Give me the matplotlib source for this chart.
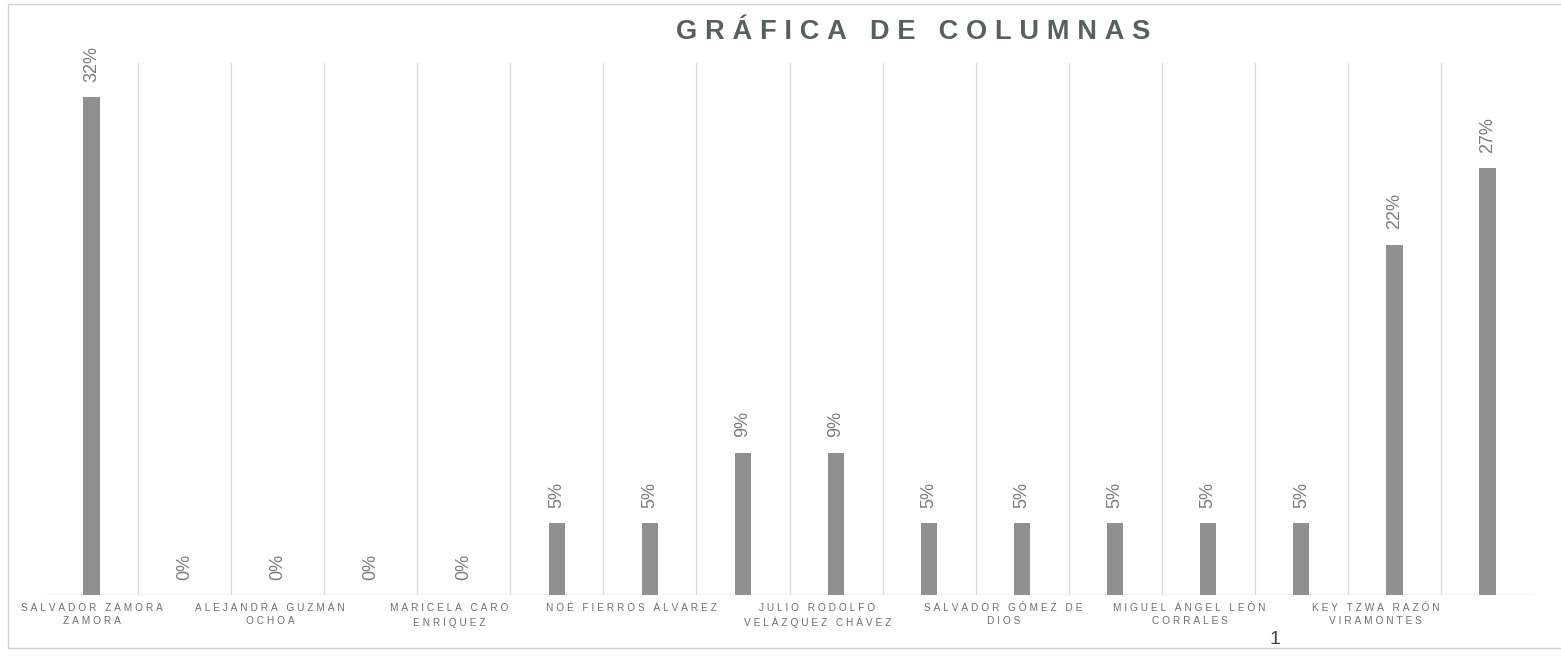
import matplotlib
matplotlib.use('Agg')
import matplotlib.pyplot as plt
from matplotlib.patches import Rectangle

plt.rcParams['font.family'] = ['Liberation Sans', 'DejaVu Sans']

# share of each candidate, in percent (labels show rounded values)
values = [31.8, 0, 0, 0, 0, 4.6, 4.6, 9.1, 9.1, 4.6, 4.6, 4.6, 4.6, 4.6, 22.4, 27.3]
# only every other category name is printed on the axis
shown_names = [
    'SALVADOR ZAMORA\nZAMORA',
    'ALEJANDRA GUZMÁN\nOCHOA',
    'MARICELA CARO\nENRÍQUEZ',
    'NOÉ FIERROS ÁLVAREZ',
    'JULIO RODOLFO\nVELÁZQUEZ CHÁVEZ',
    'SALVADOR GÓMEZ DE\nDIOS',
    'MIGUEL ÁNGEL LEÓN\nCORRALES',
    'KEY TZWA RAZÓN\nVIRAMONTES',
]
title = 'GRÁFICA DE COLUMNAS'
page_number = '1'

W, H, DPI = 1561, 657, 100


def spaced(text: str, gap: str) -> str:
    """Fake letter spacing: put a narrow space between every character."""
    return '\n'.join(gap.join(line) for line in text.split('\n'))


fig = plt.figure(figsize=(W / DPI, H / DPI), dpi=DPI)
ax = fig.add_axes((45 / W, 1 - 595 / H, (1534 - 45) / W, (595 - 63) / H))

n = len(values)
x = list(range(n))
ax.bar(x, values, width=0.175, color='#909090', edgecolor='none', zorder=3)

ax.set_xlim(-0.5, n - 0.5)
ax.set_ylim(0, 34)

# vertical separators between categories
for b in range(1, n):
    ax.axvline(b - 0.5, color='#d8d8e0', linewidth=0.9, zorder=1)
ax.axhline(0, color='#c8c8c8', linewidth=1.0, zorder=2)

for side in ('top', 'right', 'left', 'bottom'):
    ax.spines[side].set_visible(False)
ax.set_yticks([])

# the printed labels drift a little left of their category centre
ax.set_xticks([i - min(0.2, 0.04 * i) for i in x[::2]])
ax.set_xticklabels([spaced(s, '\u2009\u200a') for s in shown_names],
                   fontsize=7.3, color='#6e6e6e', linespacing=1.3)
ax.tick_params(axis='x', length=0, pad=6)

for xi, v in zip(x, values):
    ax.annotate(f'{v:.0f}%', (xi, v), xytext=(0, 11), textcoords='offset points',
                rotation=90, ha='center', va='bottom', fontsize=13, color='#7b7b7b', zorder=4)

fig.text(913 / W, 1 - 32 / H, spaced(title, '\u2009\u200a'), ha='center', va='center',
         fontsize=19.6, fontweight='bold', color='#56605f')
fig.text(1275 / W, 1 - 640 / H, page_number, ha='center', va='center',
         fontsize=14, color='#444444')

# page frame from the scanned sheet
fig.add_artist(Rectangle((8 / W, 1 - 648 / H), 1.2, (648 - 4) / H, transform=fig.transFigure,
                         fill=False, edgecolor='#d2d2d2', linewidth=1.0, clip_on=False))

fig.savefig('out.png', dpi=DPI)
